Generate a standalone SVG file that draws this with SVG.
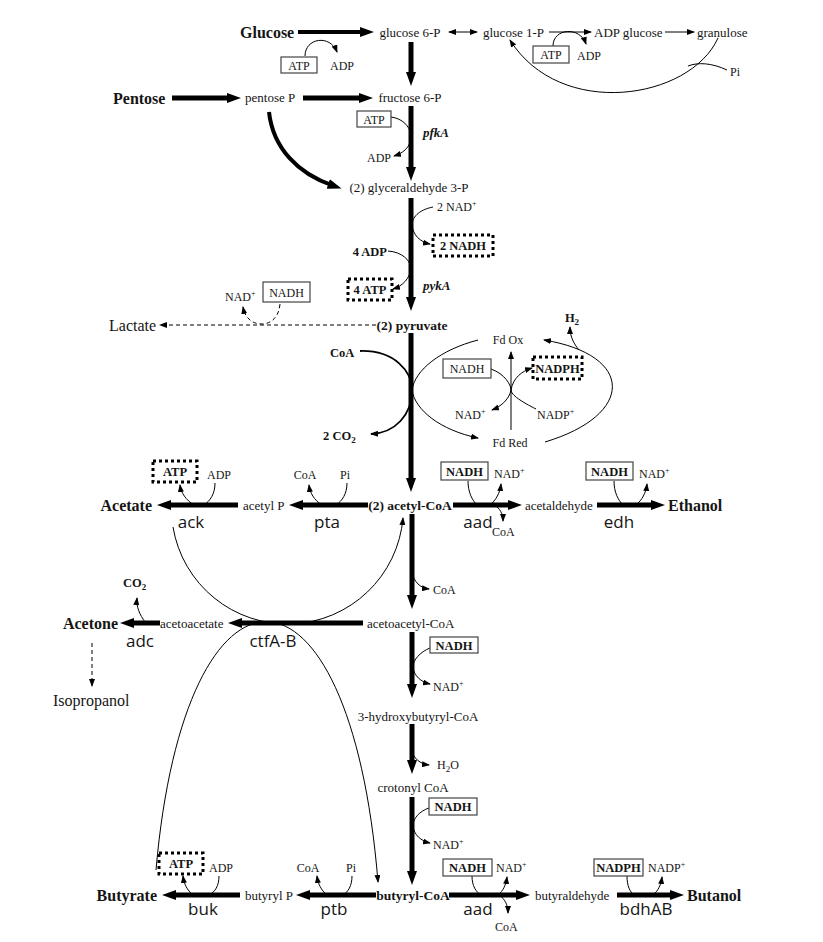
<svg xmlns="http://www.w3.org/2000/svg" width="823" height="942" viewBox="0 0 823 942">
<defs>
<style>
text{font-family:"Liberation Serif","Times New Roman",serif;fill:#151515}
.m{font-size:13px}
.p{font-size:16px;font-weight:bold}
.r{font-size:16px}
.c{font-size:12px}
.cb{font-size:12.5px;font-weight:bold}
.mb{font-size:13.5px;font-weight:bold}
.it{font-size:13px;font-weight:bold;font-style:italic}
.g{font-family:"Open Sans","Liberation Sans",sans-serif;font-size:17px}
.th{fill:none;stroke:#000;stroke-width:5;marker-end:url(#ah)}
.tn{fill:none;stroke:#000;stroke-width:1}
.ta{fill:none;stroke:#000;stroke-width:1;marker-end:url(#as)}
.da{fill:none;stroke:#000;stroke-width:1;stroke-dasharray:4 3;marker-end:url(#as)}
.bx{fill:#fff;stroke:#444;stroke-width:1.2}
.db{fill:none;stroke:#000;stroke-width:3;stroke-dasharray:3 3}
</style>
<marker id="ah" markerUnits="userSpaceOnUse" markerWidth="14" markerHeight="10" refX="5" refY="5" orient="auto"><path d="M0,0 L14,5 L0,10 z" fill="#000"/></marker>
<marker id="as" markerUnits="userSpaceOnUse" markerWidth="8" markerHeight="6" refX="7" refY="3" orient="auto-start-reverse"><path d="M0,0 L8,3 L0,6 z" fill="#000"/></marker>
</defs>
<rect width="823" height="942" fill="#fff"/>

<g id="connectors">
<!-- thick main arrows -->
<path class="th" style="stroke-width:4" d="M298,32 H365"/>
<path class="th" d="M411,42 V77"/>
<path class="th" d="M172,98 H232"/>
<path class="th" d="M303,98 H364"/>
<path class="th" d="M411,106 V172"/>
<path class="th" style="stroke-width:4" d="M269,112 C273,148 298,174 333,185.6"/>
<path class="th" d="M411,198 V302"/>
<path class="th" d="M411,333 V483"/>
<path class="th" d="M368,505 H298"/>
<path class="th" d="M238,505 H166"/>
<path class="th" d="M453,505 H513"/>
<path class="th" d="M597,505 H656"/>
<path class="th" d="M412,514 V600"/>
<path class="th" d="M363,623 H237"/>
<path class="th" d="M160,623 H129"/>
<path class="th" d="M412,632 V689"/>
<path class="th" d="M412,724 V765"/>
<path class="th" d="M412,797 V876"/>
<path class="th" d="M376,895 H305"/>
<path class="th" d="M240,895 H171"/>
<path class="th" d="M449,895 H521"/>
<path class="th" d="M617,895 H675"/>

<!-- top thin -->
<path class="ta" style="marker-start:url(#as)" d="M449,32 H477"/>
<path class="ta" d="M549,32 H591"/>
<path class="ta" d="M665,32 H694"/>
<path class="ta" d="M305,56 C305,38 330,34 337,52"/>
<path class="ta" d="M553,46 C553,28 580,26 586,44"/>
<path class="ta" d="M718,38 C690,100 560,120 510,40"/>
<path class="tn" d="M727,70 C712,63 698,62 688,66"/>
<path class="ta" d="M391,117 C414,120 420,148 394,156"/>
<path class="ta" d="M433,207 C418,210 412,218 412,225 C413,235 420,242 430,244"/>
<path class="ta" d="M388,251 C402,252 410,260 411,268 C410,278 403,286 393,289"/>

<!-- lactate -->
<path class="da" d="M376,325 H160"/>
<path class="da" d="M280,304 C279,318 270,324 262,324 C252,324 245,318 243,307"/>

<!-- pyruvate to acetyl-CoA region -->
<path class="ta" style="stroke-width:1.8" d="M360,351 C395,350 412,372 412,390 C412,415 395,433 371,434"/>
<path class="ta" d="M478,340 C440,350 415,370 412,390 C415,410 440,430 478,438"/>
<path class="ta" d="M511,430 V352"/>
<path class="ta" d="M491,369 C505,374 511,385 511,390 C509,400 500,407 492,410"/>
<path class="ta" d="M536,409 C522,402 511,395 511,390 C513,378 522,371 532,368"/>
<path class="ta" d="M545,442 C635,415 635,355 544,340"/>
<path class="ta" d="M579,350 C574,344 570,337 570,327"/>

<!-- acetyl-CoA row cofactors -->
<path class="tn" d="M215,483 C215,494 210,501 204,505"/>
<path class="ta" d="M194,505 C186,500 181,493 180,485"/>
<path class="tn" d="M347,483 C347,494 342,501 336,505"/>
<path class="ta" d="M322,505 C314,500 310,493 309,485"/>
<path class="tn" d="M468,481 C468,492 472,500 477,505"/>
<path class="ta" d="M490,505 C496,500 500,493 501,484"/>
<path class="ta" d="M494,505 C500,508 503,514 503,521"/>
<path class="tn" d="M614,481 C614,492 618,500 623,505"/>
<path class="ta" d="M636,505 C642,500 646,493 647,484"/>

<!-- middle column -->
<path class="ta" d="M412,572 C414,582 420,588 429,589"/>
<path class="ta" d="M145,622 C140,615 136,607 137,598"/>
<path class="da" d="M92,643 V686"/>
<path class="ta" d="M430,648 C420,652 413,660 413,667 C414,676 421,682 430,684"/>
<path class="ta" d="M412,750 C413,758 420,764 429,765"/>
<path class="ta" d="M429,808 C420,811 413,818 413,826 C414,835 421,841 430,843"/>

<!-- bottom row cofactors -->
<path class="tn" d="M219,876 C219,886 215,892 209,895"/>
<path class="ta" d="M193,895 C187,890 184,884 183,876"/>
<path class="tn" d="M352,876 C352,886 348,892 343,895"/>
<path class="ta" d="M327,895 C321,890 318,884 317,876"/>
<path class="tn" d="M472,876 C472,886 476,892 481,895"/>
<path class="ta" d="M498,895 C503,891 506,885 507,877"/>
<path class="ta" d="M499,895 C505,899 508,905 508,913"/>
<path class="tn" d="M627,876 C627,886 630,892 634,895"/>
<path class="ta" d="M653,895 C658,891 661,885 662,877"/>

<!-- ctfA-B big loops -->
<path class="ta" d="M173,527 A116,116 0 0 0 403,518"/>
<path class="ta" d="M156,870 C185,537 350,537 378,882"/>
</g>

<!-- metabolites -->
<g id="glucose"><text class="p" x="240" y="38">Glucose</text></g>
<g id="glucose6p"><text class="m" x="410" y="37" text-anchor="middle">glucose 6-P</text></g>
<g id="glucose1p"><text class="m" x="483" y="37">glucose 1-P</text></g>
<g id="adpglucose"><text class="m" x="594" y="37">ADP glucose</text></g>
<g id="granulose"><text class="m" x="697" y="37">granulose</text></g>
<g id="pi-top"><text class="c" x="730" y="76">Pi</text></g>
<g id="pentose"><text class="p" x="113" y="104">Pentose</text></g>
<g id="pentoseP"><text class="m" x="245" y="102">pentose P</text></g>
<g id="fructose6p"><text class="m" x="410" y="102" text-anchor="middle">fructose 6-P</text></g>
<g id="glyceraldehyde3p"><text class="m" x="409" y="192" text-anchor="middle">(2) glyceraldehyde 3-P</text></g>
<g id="pyruvate"><text class="mb" x="412" y="330" text-anchor="middle">(2) pyruvate</text></g>
<g id="lactate"><text class="r" x="109" y="330.5">Lactate</text></g>
<g id="acetylcoa"><text class="mb" x="410" y="509.5" text-anchor="middle">(2) acetyl-CoA</text></g>
<g id="acetylP"><text class="m" x="243" y="509.5">acetyl P</text></g>
<g id="acetate"><text class="p" x="152" y="510.5" text-anchor="end">Acetate</text></g>
<g id="acetaldehyde"><text class="m" x="525" y="509.5">acetaldehyde</text></g>
<g id="ethanol"><text class="p" x="668" y="510.5">Ethanol</text></g>
<g id="acetoacetylcoa"><text class="m" x="367" y="627.5">acetoacetyl-CoA</text></g>
<g id="acetoacetate"><text class="m" x="160" y="627.5">acetoacetate</text></g>
<g id="acetone"><text class="p" x="118" y="628.5" text-anchor="end">Acetone</text></g>
<g id="isopropanol"><text class="r" x="53" y="705.5">Isopropanol</text></g>
<g id="hydroxybutyrylcoa"><text class="m" x="418" y="720.5" text-anchor="middle">3-hydroxybutyryl-CoA</text></g>
<g id="crotonylcoa"><text class="m" x="413" y="791.5" text-anchor="middle">crotonyl CoA</text></g>
<g id="butyrylcoa"><text class="mb" x="413" y="899.5" text-anchor="middle">butyryl-CoA</text></g>
<g id="butyrylP"><text class="m" x="245" y="899.5">butyryl P</text></g>
<g id="butyrate"><text class="p" x="157" y="900.5" text-anchor="end">Butyrate</text></g>
<g id="butyraldehyde"><text class="m" x="535" y="899.5">butyraldehyde</text></g>
<g id="butanol"><text class="p" x="687" y="900.5">Butanol</text></g>

<!-- cofactors -->
<g id="cof-glc"><rect class="bx" x="281" y="57" width="36" height="16"/><text class="c" x="299" y="69.5" text-anchor="middle">ATP</text><text class="c" x="330" y="69.5">ADP</text></g>
<g id="cof-adpglc"><rect class="bx" x="533" y="46" width="36" height="17"/><text class="c" x="551" y="59" text-anchor="middle">ATP</text><text class="c" x="577" y="59.5">ADP</text></g>
<g id="cof-pfk"><rect class="bx" x="357" y="111" width="34" height="16"/><text class="c" x="374" y="123.5" text-anchor="middle">ATP</text><text class="c" x="367" y="162">ADP</text><text class="it" x="423" y="137">pfkA</text></g>
<g id="cof-gap"><text class="c" x="437" y="211">2 NAD<tspan dy="-5" font-size="8">+</tspan></text><rect class="db" x="433" y="235" width="60" height="21"/><text class="cb" x="463" y="250" text-anchor="middle">2 NADH</text></g>
<g id="cof-pyk"><text class="cb" x="387" y="256" text-anchor="end">4 ADP</text><rect class="db" x="348" y="279" width="44" height="21"/><text class="cb" x="370" y="294" text-anchor="middle">4 ATP</text><text class="it" x="423" y="290">pykA</text></g>
<g id="cof-ldh"><text class="c" x="225" y="301">NAD<tspan dy="-5" font-size="8">+</tspan></text><rect class="bx" x="263" y="282" width="47" height="20"/><text class="c" x="286.5" y="296.5" text-anchor="middle">NADH</text></g>
<g id="cof-pfor"><text class="cb" x="330" y="356.5">CoA</text><text class="cb" x="323" y="439.5">2 CO<tspan dy="3" font-size="9">2</tspan></text></g>
<g id="fd-ox"><text class="c" x="508" y="344" text-anchor="middle">Fd Ox</text></g>
<g id="fd-red"><text class="c" x="510" y="447" text-anchor="middle">Fd Red</text></g>
<g id="cof-fd"><rect class="bx" x="443" y="359" width="48" height="19"/><text class="c" x="467" y="373" text-anchor="middle">NADH</text><rect class="db" x="533" y="357" width="49" height="22"/><text class="cb" x="557.5" y="372.5" text-anchor="middle">NADPH</text><text class="c" x="455" y="419">NAD<tspan dy="-5" font-size="8">+</tspan></text><text class="c" x="537" y="419">NADP<tspan dy="-5" font-size="8">+</tspan></text></g>
<g id="h2"><text class="cb" x="572" y="322" text-anchor="middle">H<tspan dy="3" font-size="9">2</tspan></text></g>
<g id="cof-ack"><rect class="db" x="153" y="461" width="44" height="21"/><text class="cb" x="175" y="476" text-anchor="middle">ATP</text><text class="c" x="207" y="479">ADP</text><text class="g" x="191" y="528" text-anchor="middle">ack</text></g>
<g id="cof-pta"><text class="c" x="305" y="479" text-anchor="middle">CoA</text><text class="c" x="340" y="479">Pi</text><text class="g" x="327" y="528" text-anchor="middle">pta</text></g>
<g id="cof-aad1"><rect class="bx" x="441" y="462" width="47" height="18"/><text class="cb" x="464.5" y="475.5" text-anchor="middle">NADH</text><text class="c" x="494" y="478">NAD<tspan dy="-5" font-size="8">+</tspan></text><text class="c" x="492" y="536">CoA</text><text class="g" x="478" y="528" text-anchor="middle">aad</text></g>
<g id="cof-edh"><rect class="bx" x="586" y="462" width="47" height="18"/><text class="cb" x="609.5" y="475.5" text-anchor="middle">NADH</text><text class="c" x="639" y="478">NAD<tspan dy="-5" font-size="8">+</tspan></text><text class="g" x="619" y="528" text-anchor="middle">edh</text></g>
<g id="cof-thl"><text class="c" x="433" y="594">CoA</text></g>
<g id="cof-adc"><text class="cb" x="123" y="587">CO<tspan dy="3" font-size="9">2</tspan></text><text class="g" x="140" y="647" text-anchor="middle">adc</text></g>
<g id="cof-ctf"><text class="g" x="273" y="647" text-anchor="middle">ctfA-B</text></g>
<g id="cof-hbd"><rect class="bx" x="430" y="637" width="48" height="16"/><text class="cb" x="454" y="649.5" text-anchor="middle">NADH</text><text class="c" x="433" y="691">NAD<tspan dy="-5" font-size="8">+</tspan></text></g>
<g id="cof-crt"><text class="c" x="437" y="769">H<tspan dy="3" font-size="9">2</tspan><tspan dy="-3">O</tspan></text></g>
<g id="cof-bcd"><rect class="bx" x="429" y="798" width="48" height="17"/><text class="cb" x="453" y="811" text-anchor="middle">NADH</text><text class="c" x="433" y="849">NAD<tspan dy="-5" font-size="8">+</tspan></text></g>
<g id="cof-buk"><rect class="db" x="159" y="853" width="44" height="21"/><text class="cb" x="181" y="868" text-anchor="middle">ATP</text><text class="c" x="209" y="872">ADP</text><text class="g" x="203" y="915" text-anchor="middle">buk</text></g>
<g id="cof-ptb"><text class="c" x="308" y="872" text-anchor="middle">CoA</text><text class="c" x="346" y="872">Pi</text><text class="g" x="334" y="915" text-anchor="middle">ptb</text></g>
<g id="cof-aad2"><rect class="bx" x="443" y="859" width="49" height="17"/><text class="cb" x="467.5" y="872" text-anchor="middle">NADH</text><text class="c" x="496" y="872">NAD<tspan dy="-5" font-size="8">+</tspan></text><text class="c" x="495" y="931">CoA</text><text class="g" x="478" y="915" text-anchor="middle">aad</text></g>
<g id="cof-bdh"><rect class="bx" x="594" y="859" width="49" height="17"/><text class="cb" x="618.5" y="872" text-anchor="middle">NADPH</text><text class="c" x="648" y="872">NADP<tspan dy="-5" font-size="8">+</tspan></text><text class="g" x="646" y="915" text-anchor="middle">bdhAB</text></g>
</svg>
